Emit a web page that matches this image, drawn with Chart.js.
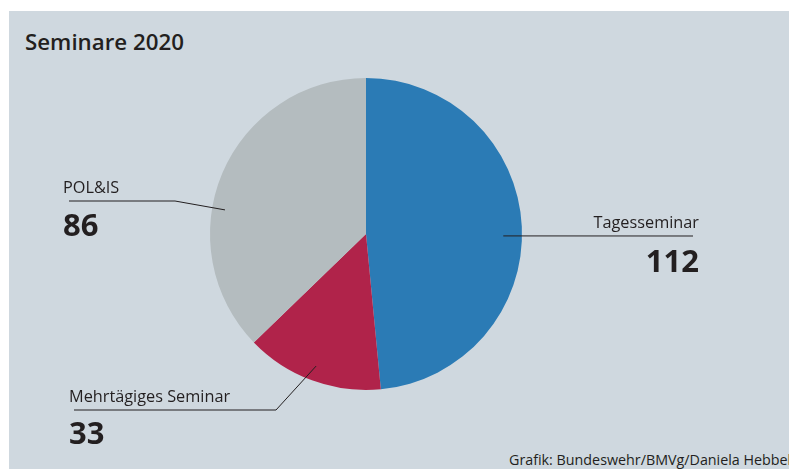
<!DOCTYPE html>
<html lang="de">
<head>
  <meta charset="UTF-8" />
  <title>Seminare 2020</title>
  <script src="https://cdn.jsdelivr.net/npm/chart.js"></script>
  <style>
    html, body {
      margin: 0;
      padding: 0;
      background: #ffffff;
      width: 789px;
      height: 469px;
      overflow: hidden;
      font-family: "Open Sans", sans-serif;
    }
    .panel {
      position: absolute;
      left: 9px;
      top: 11px;
      right: 0;
      bottom: 0;
      background: #cfd8df;
    }
    .title {
      position: absolute;
      left: 25px;
      top: 26px;
      font-size: 22.3px;
      font-weight: 600;
      color: #231f20;
    }
    .credit {
      position: absolute;
      left: 509px;
      bottom: 0px;
      font-size: 14.3px;
      white-space: nowrap;
      color: #231f20;
    }
    #wrap {
      position: absolute;
      left: 0;
      top: 0;
      width: 789px;
      height: 469px;
    }
  </style>
</head>
<body>
  <div class="panel"></div>
  <div class="title">Seminare 2020</div>
  <div class="credit">Grafik: Bundeswehr/BMVg/Daniela Hebbel</div>
  <div id="wrap"><canvas id="pie"></canvas></div>

  <script>
    const categories = ["Tagesseminar", "Mehrtägiges Seminar", "POL&IS"];
    const seminarCounts = [112, 33, 86];
    const sliceColors = ["#2b7bb5", "#b0234a", "#b4bcbf"];

    // where each callout sits: anchor inside the slice (angle from top, share of radius),
    // then the elbow of the leader line and the text
    const callouts = [
      { angle: 90.8, r: 0.88, elbow: [693, 236], end: [693, 236], align: "right", textX: 699, nameY: 228, numY: 272 },
      { angle: 200.7, r: 0.905, elbow: [276, 410], end: [74, 410], align: "left", textX: 69, nameY: 402, numY: 444 },
      { angle: 279.7, r: 0.917, elbow: [175, 201], end: [69, 201], align: "left", textX: 63, nameY: 193, numY: 236 }
    ];

    const calloutPlugin = {
      id: "callouts",
      afterDatasetsDraw(chart) {
        const ctx = chart.ctx;
        const arcs = chart.getDatasetMeta(0).data;
        ctx.save();
        arcs.forEach((arc, i) => {
          const c = callouts[i];
          const a = c.angle * Math.PI / 180;
          const ax = arc.x + Math.sin(a) * arc.outerRadius * c.r;
          const ay = arc.y - Math.cos(a) * arc.outerRadius * c.r;

          ctx.strokeStyle = "#231f20";
          ctx.lineWidth = 1;
          ctx.beginPath();
          ctx.moveTo(ax, ay);
          ctx.lineTo(c.elbow[0], c.elbow[1]);
          ctx.lineTo(c.end[0], c.end[1]);
          ctx.stroke();

          ctx.fillStyle = "#231f20";
          ctx.textAlign = c.align;
          ctx.textBaseline = "alphabetic";
          ctx.font = '16.3px "Open Sans", sans-serif';
          ctx.fillText(categories[i], c.textX, c.nameY);
          ctx.font = 'bold 31px "Open Sans", sans-serif';
          ctx.fillText(String(seminarCounts[i]), c.textX, c.numY);
        });
        ctx.restore();
      }
    };

    new Chart(document.getElementById("pie"), {
      type: "pie",
      data: {
        labels: categories,
        datasets: [{
          data: seminarCounts,
          backgroundColor: sliceColors,
          borderWidth: 0
        }]
      },
      options: {
        responsive: true,
        maintainAspectRatio: false,
        animation: false,
        layout: {
          padding: { top: 78, bottom: 79, left: 210, right: 267 }
        },
        plugins: {
          legend: { display: false },
          tooltip: { enabled: false }
        }
      },
      plugins: [calloutPlugin]
    });
  </script>
</body>
</html>
